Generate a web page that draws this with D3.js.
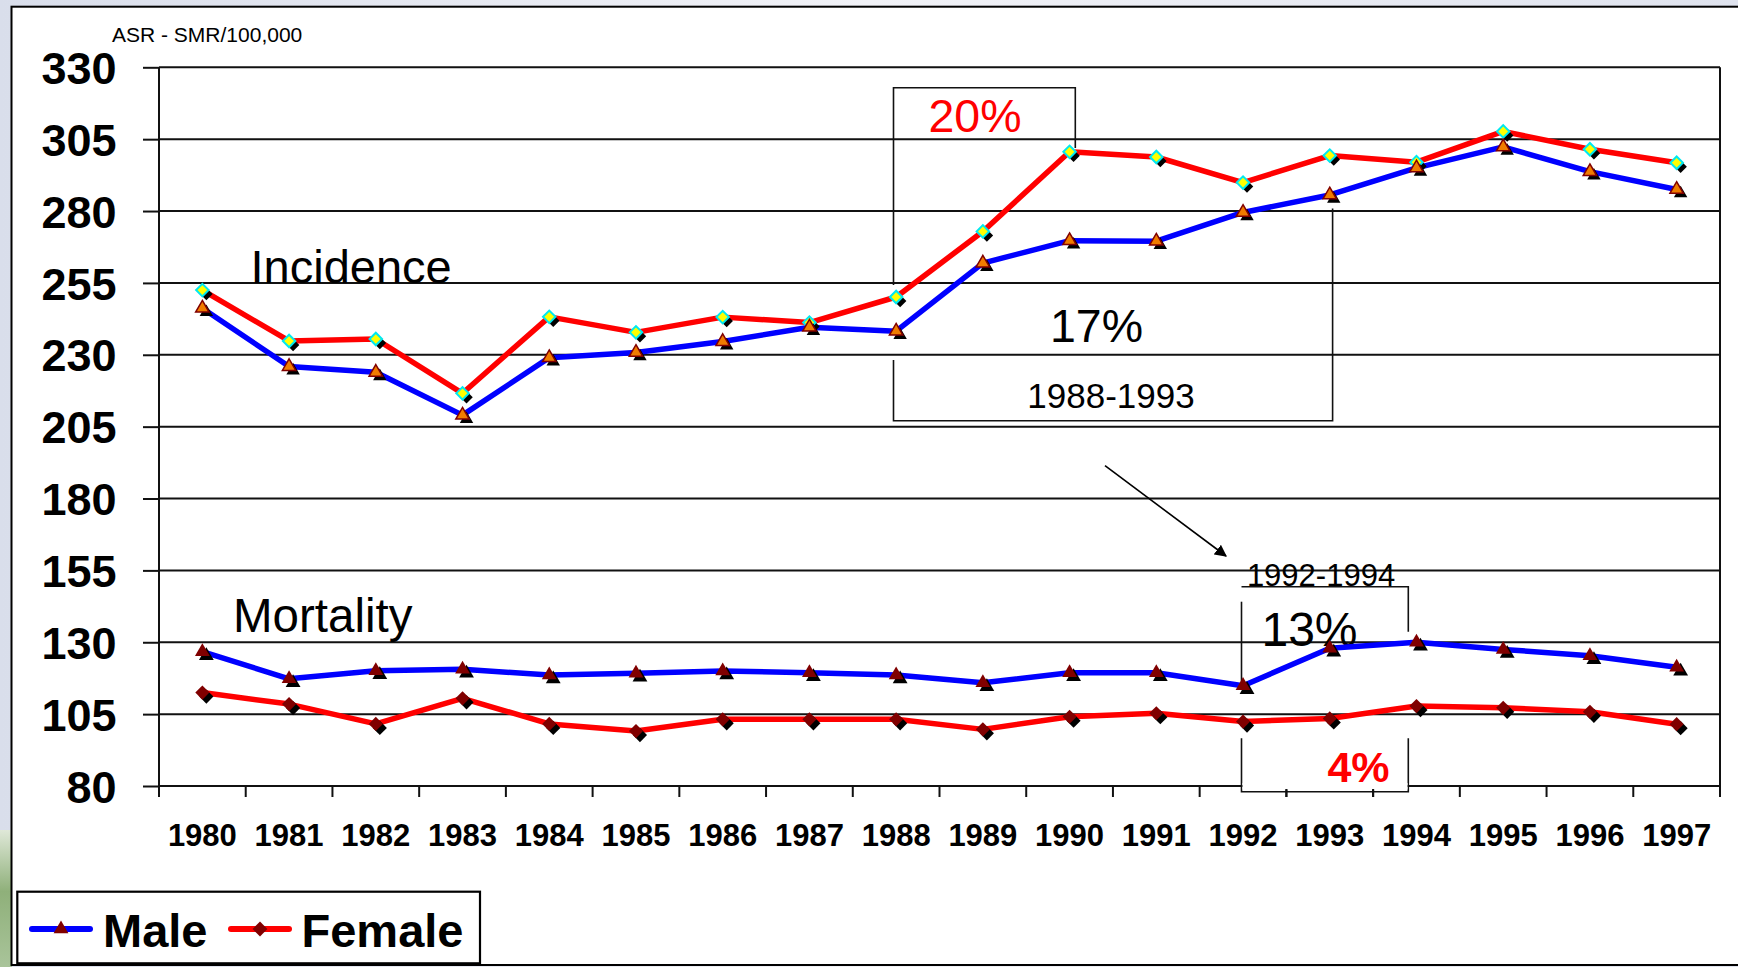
<!DOCTYPE html>
<html>
<head>
<meta charset="utf-8">
<script src="https://cdn.jsdelivr.net/npm/d3@7"></script>
<style>
  html, body { margin: 0; padding: 0; background: #e9ecf4; }
  svg { display: block; }
  text { font-family: "Liberation Sans", Arial, Helvetica, sans-serif; }
</style>
</head>
<body>
<svg id="chart" width="1738" height="967"></svg>
<script>
// ---------------- data ----------------
const years = ["1980","1981","1982","1983","1984","1985","1986","1987","1988",
               "1989","1990","1991","1992","1993","1994","1995","1996","1997"];
const incidenceMale   = [246.2, 225.9, 223.9, 209.0, 229.0, 230.8, 234.6, 239.6, 238.2,
                         261.9, 269.7, 269.5, 279.5, 285.6, 295.0, 302.3, 293.7, 287.5];
const incidenceFemale = [252.5, 234.8, 235.5, 216.6, 243.2, 237.8, 243.1, 241.2, 250.1,
                         272.9, 300.6, 298.8, 289.9, 299.3, 297.0, 307.7, 301.5, 296.8];
const mortalityMale   = [126.7, 117.3, 120.1, 120.6, 118.6, 119.2, 120.0, 119.4, 118.6,
                         115.9, 119.4, 119.4, 114.9, 127.9, 130.0, 127.5, 125.3, 121.3];
const mortalityFemale = [112.5, 108.5, 101.6, 110.5, 101.6, 99.1, 103.2, 103.2, 103.2,
                         99.7, 104.1, 105.3, 102.4, 103.5, 107.8, 107.2, 105.8, 101.5];
const yTicks = [80, 105, 130, 155, 180, 205, 230, 255, 280, 305, 330];
const legendLabels = ["Male", "Female"];
const unitLabel = "ASR - SMR/100,000";

// ---------------- layout ----------------
const W = 1738, H = 967;
const plot = { left: 159, right: 1720, top: 67.3, bottom: 786 };
const FONT = '"Liberation Sans", Arial, Helvetica, sans-serif';
const svg = d3.select("#chart");

// page background (slide) and frame
const defs = svg.append("defs");
const bg = defs.append("linearGradient").attr("id","bg").attr("x1",0).attr("y1",0).attr("x2",1).attr("y2",0);
bg.append("stop").attr("offset","0%").attr("stop-color","#d9deeb");
bg.append("stop").attr("offset","50%").attr("stop-color","#f1f2f7");
bg.append("stop").attr("offset","100%").attr("stop-color","#dfe3ee");
svg.append("rect").attr("width",W).attr("height",H).attr("fill","url(#bg)");
// a hint of the green leaf decoration at bottom-left
const leaf = defs.append("linearGradient").attr("id","leaf").attr("x1",0).attr("y1",0).attr("x2",0).attr("y2",1);
leaf.append("stop").attr("offset","0%").attr("stop-color","#dfe8d8");
leaf.append("stop").attr("offset","45%").attr("stop-color","#8fb07a");
leaf.append("stop").attr("offset","100%").attr("stop-color","#a9c49a");
svg.append("rect").attr("x",0).attr("y",830).attr("width",12).attr("height",137).attr("fill","url(#leaf)");
svg.append("rect").attr("x",11.5).attr("y",6.7).attr("width",W).attr("height",958.3)
   .attr("fill","#fff").attr("stroke","#000").attr("stroke-width",2);

// ---------------- scales ----------------
const x = d3.scaleBand().domain(years).range([plot.left, plot.right]).paddingInner(0).paddingOuter(0);
const cx = d => x(d) + x.bandwidth() / 2;
const y = d3.scaleLinear().domain([80, 330]).range([plot.bottom, plot.top]);

// ---------------- gridlines ----------------
svg.append("g").selectAll("line").data(yTicks).join("line")
   .attr("x1", plot.left).attr("x2", plot.right)
   .attr("y1", d => y(d)).attr("y2", d => y(d))
   .attr("stroke","#111").attr("stroke-width",2);

// right border of plot
svg.append("line").attr("x1",plot.right).attr("x2",plot.right)
   .attr("y1",plot.top).attr("y2",plot.bottom + 11)
   .attr("stroke","#111").attr("stroke-width",2);

// ---------------- y axis ----------------
const yAxis = d3.axisLeft(y).tickValues(yTicks).tickSize(16).tickPadding(26.5);
const gy = svg.append("g").attr("transform",`translate(${plot.left},0)`).call(yAxis);
gy.select(".domain").attr("stroke","#111").attr("stroke-width",2)
  .attr("d", `M0,${plot.top}V${plot.bottom + 11}`);
gy.selectAll(".tick line").attr("stroke","#111").attr("stroke-width",2);
gy.selectAll(".tick text").attr("font-family",FONT).attr("font-size",45).attr("font-weight","bold")
  .attr("fill","#000").attr("dy","0.36em");

// ---------------- x axis ----------------
const xAxis = d3.axisBottom(x).tickSizeInner(0).tickSizeOuter(0).tickPadding(38);
const gx = svg.append("g").attr("transform",`translate(0,${plot.bottom})`).call(xAxis);
gx.select(".domain").attr("stroke","#111").attr("stroke-width",2).attr("d",`M${plot.left},0H${plot.right}`);
gx.selectAll(".tick line").remove();
gx.selectAll(".tick text").attr("font-family",FONT).attr("font-size",31).attr("font-weight","bold").attr("fill","#000");
// ticks at category boundaries
const bounds = years.map(d => x(d)).concat([plot.right]);
svg.append("g").selectAll("line").data(bounds).join("line")
   .attr("x1", d => d).attr("x2", d => d)
   .attr("y1", plot.bottom).attr("y2", plot.bottom + 11)
   .attr("stroke","#111").attr("stroke-width",2);

// ---------------- annotations ----------------
const ann = svg.append("g").attr("stroke","#111").attr("stroke-width",1.6).attr("fill","none");
// 20% box (1988-1990 females) and 17% box (1988-1993 males)
ann.append("path").attr("d","M893.5,285 V87.7 H1075.3 V148");
ann.append("path").attr("d","M893.5,360 V420.7 H1332.6 V208.5");
// 1992-1994 bracket (mortality)
svg.append("rect").attr("x",1242.5).attr("y",783).attr("width",165).attr("height",6.5).attr("fill","#fff");
ann.append("path").attr("d","M1241.5,601.7 V686");
ann.append("path").attr("d","M1241.5,586.7 H1408.3 V631.7");
ann.append("path").attr("d","M1241.5,738.3 V791.7 H1408.3 V738.3");
// re-draw the two small axis ticks inside the bracket
[years[13], years[14]].forEach(d => {
  svg.append("line").attr("x1",x(d)).attr("x2",x(d)).attr("y1",789).attr("y2",797)
     .attr("stroke","#111").attr("stroke-width",2);
});
// arrow
defs.append("marker").attr("id","arrow").attr("viewBox","0 0 10 10").attr("refX",9).attr("refY",5)
    .attr("markerWidth",12).attr("markerHeight",12).attr("markerUnits","userSpaceOnUse").attr("orient","auto")
    .append("path").attr("d","M0,0 L10,5 L0,10 z").attr("fill","#000");
svg.append("line").attr("x1",1105).attr("y1",465.7).attr("x2",1226).attr("y2",556)
   .attr("stroke","#000").attr("stroke-width",1.6).attr("marker-end","url(#arrow)");

const txt = (s, xx, yy, size, opts = {}) => svg.append("text")
   .attr("x",xx).attr("y",yy).attr("font-family",FONT).attr("font-size",size)
   .attr("font-weight",opts.bold ? "bold" : "normal").attr("fill",opts.fill || "#000")
   .attr("text-anchor",opts.anchor || "start").text(s);

txt(unitLabel, 112, 42, 21);
txt("Incidence", 250.5, 283, 47);
txt("Mortality", 233, 631.5, 47.5);
txt("20%", 975, 131.5, 46.5, {fill:"#ff0000", anchor:"middle"});
txt("17%", 1096.5, 341.7, 46.5, {anchor:"middle"});
txt("1988-1993", 1111, 407.5, 35, {anchor:"middle"});
txt("1992-1994", 1321, 585.5, 31, {anchor:"middle"});
txt("13%", 1309.5, 646, 48, {anchor:"middle"});
txt("4%", 1358.5, 782, 43, {fill:"#ff0000", anchor:"middle", bold:true});

// ---------------- series ----------------
const line = d3.line().x((d,i) => cx(years[i])).y(d => y(d));
const series = [
  { vals: incidenceFemale, color: "#ff0000", shape: "diamond", fill: "#ffff00", stroke: "#00e8f0", sw: 2, size: 78 },
  { vals: incidenceMale,   color: "#0000ff", shape: "triangle", fill: "#f07c00", stroke: "#800000", sw: 1.5, size: 78 },
  { vals: mortalityFemale, color: "#ff0000", shape: "diamond", fill: "#800000", stroke: "none", sw: 0, size: 100 },
  { vals: mortalityMale,   color: "#0000ff", shape: "triangle", fill: "#800000", stroke: "none", sw: 0, size: 95 }
];
const symPath = (shape, size) => shape === "triangle"
  ? d3.symbol().type(d3.symbolTriangle).size(size)()
  : d3.symbol().type(d3.symbolSquare).size(size)();
const rot = shape => shape === "diamond" ? " rotate(45)" : "";

series.forEach(s => {
  svg.append("path").datum(s.vals).attr("d", line)
     .attr("fill","none").attr("stroke", s.color).attr("stroke-width",5.5)
     .attr("stroke-linejoin","round");
});
series.forEach(s => {
  const g = svg.append("g");
  // shadows
  g.selectAll("path.sh").data(s.vals).join("path").attr("class","sh")
   .attr("d", symPath(s.shape, s.size))
   .attr("transform",(d,i) => `translate(${cx(years[i]) + 4},${y(d) + 4})${rot(s.shape)}`)
   .attr("fill","#000");
  g.selectAll("path.mk").data(s.vals).join("path").attr("class","mk")
   .attr("d", symPath(s.shape, s.size))
   .attr("transform",(d,i) => `translate(${cx(years[i])},${y(d)})${rot(s.shape)}`)
   .attr("fill", s.fill).attr("stroke", s.stroke).attr("stroke-width", s.sw);
});

// ---------------- legend ----------------
const lg = svg.append("g");
lg.append("rect").attr("x",17.3).attr("y",891.7).attr("width",462.7).attr("height",71.6)
  .attr("fill","#fff").attr("stroke","#000").attr("stroke-width",2.2);
const legendItems = [
  { label: legendLabels[0], color: "#0000ff", shape: "triangle", x0: 32, x1: 90, tx: 103, size: 95 },
  { label: legendLabels[1], color: "#ff0000", shape: "diamond",  x0: 231, x1: 289, tx: 301.5, size: 110 }
];
legendItems.forEach(it => {
  lg.append("line").attr("x1",it.x0).attr("x2",it.x1).attr("y1",929).attr("y2",929)
    .attr("stroke",it.color).attr("stroke-width",6).attr("stroke-linecap","round");
  lg.append("path").attr("d", symPath(it.shape, it.size))
    .attr("transform",`translate(${(it.x0+it.x1)/2},929)${rot(it.shape)}`).attr("fill","#800000");
  lg.append("text").attr("x",it.tx).attr("y",946.7).attr("font-family",FONT).attr("font-size",47)
    .attr("font-weight","bold").attr("fill","#000").text(it.label);
});
</script>
</body>
</html>
